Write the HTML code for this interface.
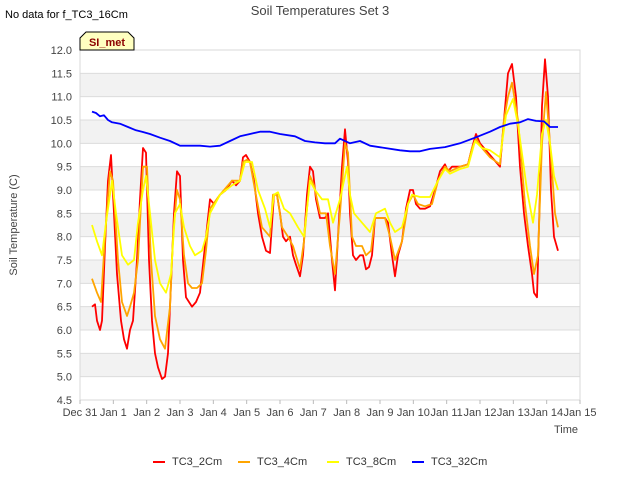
<!DOCTYPE html>
<html><head><meta charset="utf-8"><style>
body{margin:0;background:#fff;font-family:"Liberation Sans",sans-serif}
svg text{font-family:"Liberation Sans",sans-serif}
</style></head><body>
<svg width="640" height="480" xmlns="http://www.w3.org/2000/svg">
<rect width="640" height="480" fill="#fff"/>
<g id="bands"></g>
<g id="axes"></g>
<g id="series"></g>
<text x="5" y="18" font-size="11" fill="#000">No data for f_TC3_16Cm</text>
<text x="320" y="15" font-size="13" fill="#444" text-anchor="middle">Soil Temperatures Set 3</text>
<text transform="translate(17,225) rotate(-90)" font-size="11" fill="#444" text-anchor="middle">Soil Temperature (C)</text>
<text x="578" y="433" font-size="11" fill="#444" text-anchor="end">Time</text>
<g>
<path d="M80,50 L80,38 L86,32 L128,32 L134,38 L134,50 Z" fill="#ffffc0" stroke="#000" stroke-width="1"/>
<text x="107" y="46" font-size="11" font-weight="bold" fill="#8b0000" text-anchor="middle">SI_met</text>
</g>
<g id="legend"></g>
</svg>
<script>
const yTicks=[4.5,5.0,5.5,6.0,6.5,7.0,7.5,8.0,8.5,9.0,9.5,10.0,10.5,11.0,11.5,12.0];
const xTickLabels=["Dec 31","Jan 1","Jan 2","Jan 3","Jan 4","Jan 5","Jan 6","Jan 7","Jan 8","Jan 9","Jan 10","Jan 11","Jan 12","Jan 13","Jan 14","Jan 15"];
const seriesNames=["TC3_2Cm","TC3_4Cm","TC3_8Cm","TC3_32Cm"];
const seriesColors=["#ff0000","#ffa500","#ffff00","#0000ff"];
const t2=[.36,.45,.51,.60,.66,.75,.84,.93,1.02,1.11,1.23,1.32,1.41,1.50,1.59,1.71,1.80,1.89,1.98,2.07,2.16,2.25,2.34,2.46,2.55,2.64,2.73,2.82,2.91,3.00,3.09,3.18,3.27,3.36,3.48,3.60,3.75,3.90,4.02,4.20,4.38,4.56,4.68,4.80,4.89,4.98,5.10,5.22,5.34,5.46,5.58,5.70,5.82,5.91,6.00,6.09,6.18,6.30,6.39,6.48,6.60,6.69,6.81,6.90,6.99,7.08,7.20,7.35,7.44,7.56,7.65,7.74,7.86,7.95,8.04,8.10,8.19,8.28,8.40,8.49,8.58,8.67,8.76,8.85,9.00,9.15,9.24,9.36,9.45,9.54,9.66,9.78,9.90,9.99,10.08,10.20,10.35,10.50,10.65,10.80,10.95,11.04,11.16,11.40,11.64,11.76,11.88,12.00,12.24,12.48,12.60,12.72,12.84,12.96,13.08,13.20,13.32,13.44,13.56,13.62,13.71,13.80,13.86,13.95,14.04,14.13,14.22,14.34];
const v2=[6.5,6.55,6.2,6.0,6.2,7.8,9.2,9.75,8.5,7.2,6.2,5.8,5.6,6.0,6.2,7.5,8.8,9.9,9.8,7.5,6.2,5.5,5.2,4.95,5.0,5.5,7.0,8.5,9.4,9.3,7.5,6.7,6.6,6.5,6.6,6.8,7.8,8.8,8.7,8.9,9.0,9.2,9.1,9.2,9.7,9.75,9.6,9.2,8.5,8.0,7.7,7.65,8.9,8.9,8.5,8.0,7.9,8.0,7.6,7.4,7.15,7.6,8.9,9.5,9.4,8.8,8.4,8.4,8.5,7.5,6.85,8.0,9.5,10.3,9.6,8.5,7.6,7.5,7.6,7.6,7.3,7.35,7.6,8.4,8.4,8.4,8.3,7.6,7.15,7.6,7.9,8.6,9.0,9.0,8.7,8.6,8.6,8.65,9.0,9.4,9.55,9.4,9.5,9.5,9.55,9.9,10.2,10.0,9.8,9.6,9.5,10.5,11.5,11.7,11.0,9.5,8.5,7.8,7.2,6.8,6.7,9.0,10.8,11.8,11.0,9.0,8.0,7.7];
const t4=[.36,.51,.63,.75,.90,.99,1.14,1.26,1.41,1.50,1.62,1.74,1.89,2.01,2.13,2.25,2.40,2.55,2.70,2.79,2.91,3.00,3.12,3.24,3.36,3.51,3.66,3.78,3.90,4.20,4.56,4.80,4.89,5.01,5.10,5.25,5.46,5.70,5.79,5.91,6.06,6.24,6.39,6.60,6.72,6.90,7.02,7.20,7.38,7.50,7.65,7.80,7.95,8.04,8.16,8.28,8.46,8.58,8.73,8.85,9.15,9.30,9.45,9.66,9.84,9.99,10.14,10.35,10.56,10.74,10.95,11.10,11.40,11.64,11.76,11.88,12.06,12.30,12.60,12.72,12.84,12.96,13.14,13.35,13.50,13.62,13.74,13.86,13.98,14.10,14.25,14.34];
const v4=[7.1,6.8,6.6,8.0,9.4,9.2,7.5,6.6,6.3,6.5,6.8,7.5,9.5,9.5,7.5,6.3,5.8,5.6,6.5,8.0,9.0,8.8,7.6,7.0,6.9,6.9,7.0,7.7,8.6,8.9,9.2,9.2,9.6,9.65,9.6,9.0,8.2,8.0,8.9,8.9,8.2,8.0,7.8,7.3,7.9,9.3,9.1,8.5,8.5,7.8,7.2,8.5,10.0,9.8,8.0,7.8,7.8,7.6,7.7,8.4,8.4,8.0,7.5,7.9,8.7,8.9,8.7,8.65,8.7,9.2,9.5,9.4,9.5,9.55,9.9,10.1,9.9,9.7,9.55,10.5,11.0,11.3,10.5,8.7,7.8,7.2,7.6,10.0,11.1,10.0,8.5,8.2];
const t8=[.36,.51,.66,.78,.96,1.08,1.26,1.44,1.62,1.74,1.89,1.98,2.10,2.25,2.40,2.58,2.73,2.85,3.00,3.12,3.30,3.45,3.66,3.78,3.90,4.20,4.56,4.80,4.95,5.16,5.34,5.55,5.70,5.82,5.94,6.12,6.30,6.54,6.72,6.90,7.05,7.26,7.44,7.59,7.80,8.01,8.10,8.22,8.46,8.70,8.88,9.15,9.30,9.45,9.66,9.84,9.96,10.20,10.50,10.74,10.95,11.10,11.40,11.64,11.85,12.06,12.30,12.60,12.78,12.99,13.14,13.41,13.59,13.71,13.86,13.98,14.10,14.22,14.34];
const v8=[8.25,7.9,7.6,8.3,9.2,8.5,7.6,7.4,7.5,8.3,9.0,9.3,8.5,7.5,7.0,6.8,7.2,8.5,8.7,8.2,7.8,7.6,7.7,8.0,8.5,8.9,9.1,9.2,9.6,9.6,9.0,8.6,8.2,8.9,8.95,8.6,8.5,8.2,8.0,9.2,9.0,8.8,8.8,8.3,8.8,9.5,8.9,8.5,8.3,8.1,8.5,8.6,8.3,8.1,8.2,8.7,8.9,8.85,8.85,9.2,9.45,9.35,9.45,9.5,10.05,9.9,9.85,9.7,10.6,10.95,10.4,9.0,8.3,8.9,10.2,10.5,10.0,9.3,9.0];
const t32=[.36,.48,.60,.72,.84,.96,1.20,1.44,1.68,1.86,2.10,2.40,2.70,3.00,3.30,3.60,3.90,4.20,4.50,4.80,5.10,5.40,5.70,6.00,6.45,6.75,7.05,7.35,7.65,7.80,8.10,8.40,8.70,9.15,9.60,9.90,10.20,10.50,10.95,11.40,11.85,12.30,12.60,12.90,13.20,13.44,13.68,13.92,14.10,14.34];
const v32=[10.68,10.65,10.58,10.6,10.5,10.45,10.42,10.35,10.28,10.25,10.2,10.12,10.05,9.95,9.95,9.95,9.93,9.95,10.05,10.15,10.2,10.25,10.25,10.2,10.15,10.05,10.02,10.0,10.0,10.1,10.0,10.05,9.95,9.9,9.85,9.83,9.83,9.88,9.92,10.0,10.12,10.25,10.35,10.42,10.45,10.52,10.48,10.47,10.35,10.35];
const L=80,R=580,T=50,B=400,ymin=4.5,ymax=12,xmax=15;
const X=d=>L+(R-L)*d/xmax;
const Y=v=>B-(B-T)*(v-ymin)/(ymax-ymin);
const NS="http://www.w3.org/2000/svg";
function mk(tag,attrs,parent){const e=document.createElementNS(NS,tag);for(const k in attrs)e.setAttribute(k,attrs[k]);parent.appendChild(e);return e;}
const bands=document.getElementById('bands'),axes=document.getElementById('axes'),ser=document.getElementById('series'),leg=document.getElementById('legend');
for(let i=0;i<yTicks.length-1;i++){
  if(Math.round(yTicks[i]*2)%2===0){const r=mk('rect',{x:L,y:Y(yTicks[i+1]),width:R-L,height:Y(yTicks[i])-Y(yTicks[i+1]),fill:'#f2f2f2'},bands);
  
  }
}
yTicks.forEach(v=>{
  const l=mk('line',{x1:L,x2:R,y1:Y(v),y2:Y(v),stroke:'#dcdcdc','stroke-width':1},axes);
  
  
  const t=mk('text',{x:L-8,y:Y(v)+4,'font-size':11,fill:'#444','text-anchor':'end'},axes);t.textContent=v.toFixed(1);
  
  
});
mk('rect',{x:L,y:T,width:R-L,height:B-T,fill:'none',stroke:'#d8d8d8'},axes);
xTickLabels.forEach((s,i)=>{
  const l=mk('line',{x1:X(i),x2:X(i),y1:B,y2:B+4,stroke:'#bbb'},axes);
  
  
  const t=mk('text',{x:X(i),y:B+16,'font-size':11,fill:'#444','text-anchor':'middle'},axes);t.textContent=s;
  
  
});
const data=[[t2,v2],[t4,v4],[t8,v8],[t32,v32]];
data.forEach((d,k)=>{
  const pts=d[0].map((t,i)=>X(t).toFixed(1)+','+Y(d[1][i]).toFixed(1)).join(' ');
  const p=mk('polyline',{points:pts,fill:'none',stroke:seriesColors[k],'stroke-width':1.8,'stroke-linejoin':'round'},ser);
  
  
});
const lx=[153,238,327,412];
seriesNames.forEach((n,k)=>{
  const g=mk('g',{},leg);
  
  
  mk('line',{x1:lx[k],x2:lx[k]+12,y1:462,y2:462,stroke:seriesColors[k],'stroke-width':2},g);
  const t=mk('text',{x:lx[k]+19,y:465,'font-size':11,fill:'#333'},g);t.textContent=n;
});
</script>
</body></html>
